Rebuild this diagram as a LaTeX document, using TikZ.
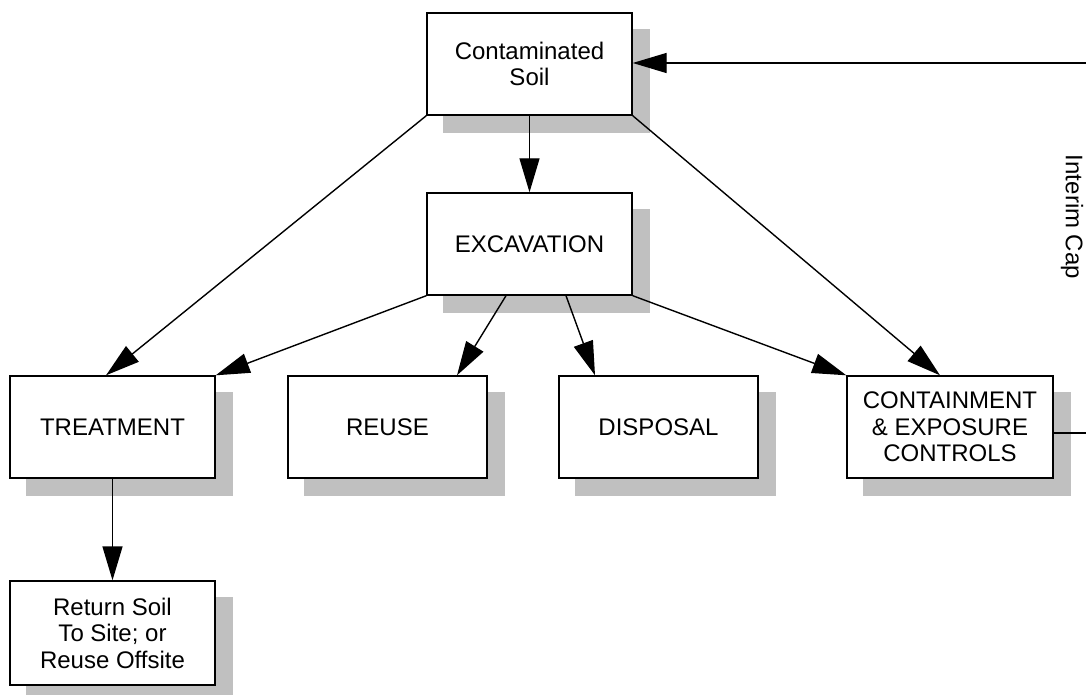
\documentclass[tikz,border=0pt]{standalone}
\usepackage{fontspec}
\setmainfont{Liberation Sans}
\usetikzlibrary{arrows.meta,backgrounds}
\definecolor{shadowgray}{RGB}{192,192,192}
\begin{document}
\begin{tikzpicture}[x=1pt,y=-1pt,
  lbl/.style={font=\fontsize{24}{26.5}\selectfont},
  box/.style={lbl, draw=black, line width=1.4pt, fill=white, align=center, inner sep=0pt,
              minimum width=205pt, minimum height=102pt},
  arr/.style={line width=1.4pt, -{Triangle[length=34pt,width=20pt]}},
  plain/.style={line width=1.4pt},
  shadowbox/.style={fill=shadowgray}
  ]
\useasboundingbox (0,0) rectangle (1086,695);
% boxes
\node[box] (cs) at (529.5,64) {Contaminated\\Soil};
\node[box] (ex) at (529.5,244) {EXCAVATION};
\node[box] (tr) at (112.5,427) {TREATMENT};
\node[box, minimum width=199pt] (re) at (387.5,427) {REUSE};
\node[box, minimum width=199pt] (di) at (658.5,427) {DISPOSAL};
\node[box, minimum width=206pt] (co) at (950,427) {CONTAINMENT\\\& EXPOSURE\\CONTROLS};
\node[box, minimum height=104pt] (rs) at (112.5,633) {Return Soil\\To Site; or\\Reuse Offsite};
\node[lbl, rotate=-90] (cap) at (1072,217) {Interim Cap};
% shadows
\begin{scope}[on background layer]
  \fill[white] (0,0) rectangle (1086,695);
  \foreach \n in {cs,ex,tr,re,di,co,rs}
    \fill[shadowbox] ([xshift=17pt,yshift=-17pt]\n.south west) rectangle ([xshift=17pt,yshift=-17pt]\n.north east);
\end{scope}
% connectors
\coordinate (capTop) at (1086,63);
\coordinate (capBot) at (1086,433);
\draw[arr] (cs.south) -- (ex.north);
\draw[arr] (cs.south west) -- ([xshift=-6.5pt]tr.north);
\draw[arr] (cs.south east) -- ([xshift=-10pt]co.north);
\draw[arr] (ex.south west) -- (tr.north east);
\draw[arr] ([xshift=-23.5pt]ex.south) -- ([xshift=69.5pt]re.north);
\draw[arr] ([xshift=36.5pt]ex.south) -- ([xshift=-63.5pt]di.north);
\draw[arr] (ex.south east) -- (co.north west);
\draw[arr] (tr.south) -- (rs.north);
\draw[arr] (capTop) -- (cs.east |- capTop);
\draw[plain] (co.east |- capBot) -- (capBot);
\end{tikzpicture}
\end{document}
